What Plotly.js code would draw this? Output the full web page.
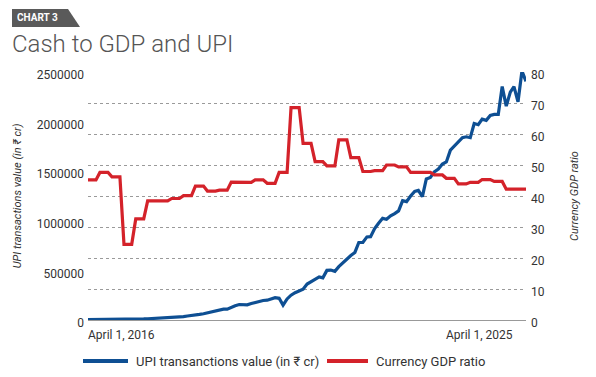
<!DOCTYPE html>
<html>
<head>
<meta charset="utf-8">
<script src="https://cdn.plot.ly/plotly-3.0.1.min.js"></script>
<style>html,body{margin:0;padding:0;background:#fff;}#chart{width:596px;height:377px;}</style>
</head>
<body>
<div id="chart"></div>
<script>
// ---- Data ----
const chartTag = "CHART 3";
const chartTitle = "Cash to GDP and UPI";
const startYear = 2016, startMonth = 4, monthCount = 111; // Apr 2016 .. Jun 2025 monthly
const xLabels = ["April 1, 2016", "April 1, 2025"];
const seriesNames = ["UPI transanctions value (in ₹ cr)", "Currency GDP ratio"];
const leftAxisTitle = "UPI transactions value (in ₹ cr)";
const rightAxisTitle = "Currency GDP ratio";
const leftTicks = [0, 500000, 1000000, 1500000, 2000000, 2500000];
const rightTicks = [0, 10, 20, 30, 40, 50, 60, 70, 80];

// UPI transactions value, monthly (₹ cr)
const upiValues = [
  3000, 3000, 3000, 3000, 3000, 3000, 3000, 3000, 4700, 6250,
  6250, 7800, 9400, 9400, 10900, 12500, 14100, 15600, 17200, 18750,
  21900, 25000, 28100, 31250, 34400, 40600, 43750, 50000, 56250, 62500,
  71900, 81250, 90600, 103100, 109400, 109400, 131250, 143750, 156250, 156250,
  153100, 165600, 178100, 190600, 196900, 200000, 215600, 225000, 218750, 150000,
  212500, 250000, 275000, 290600, 309400, 362500, 384400, 412500, 434400, 425000,
  500000, 503100, 490600, 537500, 578100, 618750, 650000, 681250, 781250, 781250,
  837500, 840600, 921900, 975000, 1025000, 1015600, 1050000, 1071900, 1100000, 1203100,
  1193750, 1250000, 1296900, 1306250, 1243750, 1421900, 1437500, 1493750, 1521900, 1571900,
  1593750, 1712500, 1750000, 1796900, 1837500, 1846900, 1837500, 1981250, 1968750, 2025000,
  2012500, 2062500, 2071900, 2071900, 2353100, 2156250, 2296900, 2353100, 2200000, 2509400,
  2406250
];

// Currency to GDP ratio, monthly (quarterly figures held for each month)
const currencyGdp = [
  45.2, 45.2, 45.2, 47.6, 47.6, 47.6, 46.2, 46.2, 46.2, 24.4,
  24.4, 24.4, 32.6, 32.6, 32.6, 38.4, 38.4, 38.4, 38.4, 38.4,
  38.4, 39.2, 39.2, 39.2, 40.1, 40.1, 40.1, 43.2, 43.2, 43.2,
  41.6, 41.6, 41.6, 41.9, 41.9, 41.9, 44.5, 44.5, 44.5, 44.4,
  44.4, 44.4, 45.2, 45.2, 45.2, 44.1, 44.1, 44.1, 47.6, 47.6,
  47.6, 68.5, 68.5, 68.5, 57.0, 57.0, 57.0, 51.1, 51.1, 51.1,
  49.7, 49.7, 49.7, 58.1, 58.1, 58.1, 52.4, 52.4, 52.4, 47.9,
  47.9, 47.9, 48.2, 48.2, 48.2, 50.0, 50.0, 50.0, 49.4, 49.4,
  49.4, 47.6, 47.6, 47.6, 47.6, 47.6, 47.6, 46.8, 46.8, 46.8,
  45.7, 45.7, 45.7, 43.9, 43.9, 43.9, 44.4, 44.4, 44.4, 45.3,
  45.3, 45.3, 44.7, 44.7, 44.7, 42.2, 42.2, 42.2, 42.2, 42.2,
  42.2
];

// ---- Build monthly dates ----
const months = [];
for (let i = 0; i < monthCount; i++) {
  const t = (startMonth - 1) + i;
  const y = startYear + Math.floor(t / 12);
  const m = (t % 12) + 1;
  months.push(y + "-" + String(m).padStart(2, "0") + "-01");
}

// ---- Geometry helpers (pixel -> paper) ----
const W = 596, H = 377;
const M = {l: 88, r: 70, t: 72, b: 57};
const PW = W - M.l - M.r, PH = H - M.t - M.b;
const px = x => (x - M.l) / PW;
const py = y => (H - M.b - y) / PH;

const BLUE = "#0e4f93";
const RED = "#d4222a";
const TXT = "#333333";
const FONT = "Roboto, 'Liberation Sans', sans-serif";

const traces = [
  {
    x: months, y: currencyGdp, name: seriesNames[1], yaxis: "y2",
    type: "scatter", mode: "lines",
    line: {color: RED, width: 3.2}, showlegend: false, hoverinfo: "skip"
  },
  {
    x: months, y: upiValues, name: seriesNames[0], yaxis: "y",
    type: "scatter", mode: "lines",
    line: {color: BLUE, width: 3.2}, showlegend: false, hoverinfo: "skip"
  }
];

const badgePath = "M " + px(12) + " " + py(9) + " L " + px(68) + " " + py(9) +
  " L " + px(80) + " " + py(27) + " L " + px(12) + " " + py(27) + " Z";

// legend keys (drawn as shapes + text so the key lines match the reference length)
const legendItems = [
  {name: seriesNames[0], color: BLUE, x0: 83, x1: 128},
  {name: seriesNames[1], color: RED, x0: 327, x1: 368}
];
const legendY = 361;

const shapes = [
  {type: "path", xref: "paper", yref: "paper", path: badgePath,
   fillcolor: "#5a5a5a", line: {width: 0}}
];
const annotations = [
  {text: "<b>" + chartTag + "</b>", xref: "paper", yref: "paper",
   x: px(15), y: py(18), xanchor: "left", yanchor: "middle", showarrow: false,
   font: {size: 10, color: "#ffffff", family: FONT}},
  {text: xLabels[0], xref: "paper", yref: "paper", x: px(86), y: py(335),
   xanchor: "left", yanchor: "middle", showarrow: false,
   font: {size: 12, color: TXT, family: FONT}},
  {text: xLabels[1], xref: "paper", yref: "paper", x: px(515), y: py(335),
   xanchor: "right", yanchor: "middle", showarrow: false,
   font: {size: 12, color: TXT, family: FONT}}
];
legendItems.forEach(it => {
  shapes.push({type: "line", xref: "paper", yref: "paper",
    x0: px(it.x0), x1: px(it.x1), y0: py(legendY), y1: py(legendY),
    line: {color: it.color, width: 4}});
  annotations.push({text: it.name, xref: "paper", yref: "paper",
    x: px(it.x1 + 6), y: py(legendY), xanchor: "left", yanchor: "middle",
    showarrow: false, font: {size: 13, color: TXT, family: FONT}});
});

const layout = {
  width: W, height: H,
  margin: M,
  paper_bgcolor: "#ffffff", plot_bgcolor: "#ffffff",
  font: {family: FONT, color: TXT, size: 12},
  showlegend: false,
  title: {
    text: chartTitle, xref: "container", yref: "container",
    x: 12 / W, xanchor: "left", y: 1 - 44 / H, yanchor: "middle",
    font: {family: FONT, size: 24, color: "#555555", weight: 300}
  },
  xaxis: {
    type: "date", range: [months[0], months[months.length - 1]],
    showgrid: false, zeroline: false, showticklabels: false, ticks: "",
    showline: true, linecolor: "#999999", linewidth: 1, fixedrange: true
  },
  yaxis: {
    range: [0, 2500000], tickvals: leftTicks, tickformat: "d",
    showgrid: false, zeroline: false, ticks: "", showline: false,
    tickfont: {size: 12, color: TXT}, ticklabelshift: 3, ticklabelstandoff: 3,
    title: {text: leftAxisTitle, font: {size: 11, color: TXT, style: "italic"}, standoff: 12},
    fixedrange: true
  },
  yaxis2: {
    overlaying: "y", side: "right", range: [0, 80], tickvals: rightTicks,
    showgrid: true, gridcolor: "#9a9a9a", griddash: "dot", gridwidth: 1,
    zeroline: false, ticks: "", showline: false,
    tickfont: {size: 12, color: TXT}, ticklabelshift: 3, ticklabelstandoff: 4,
    title: {text: rightAxisTitle, font: {size: 11, color: TXT, style: "italic"}, standoff: 26},
    fixedrange: true
  },
  shapes: shapes,
  annotations: annotations
};

Plotly.newPlot("chart", traces, layout, {displayModeBar: false, staticPlot: true});
</script>
</body>
</html>
